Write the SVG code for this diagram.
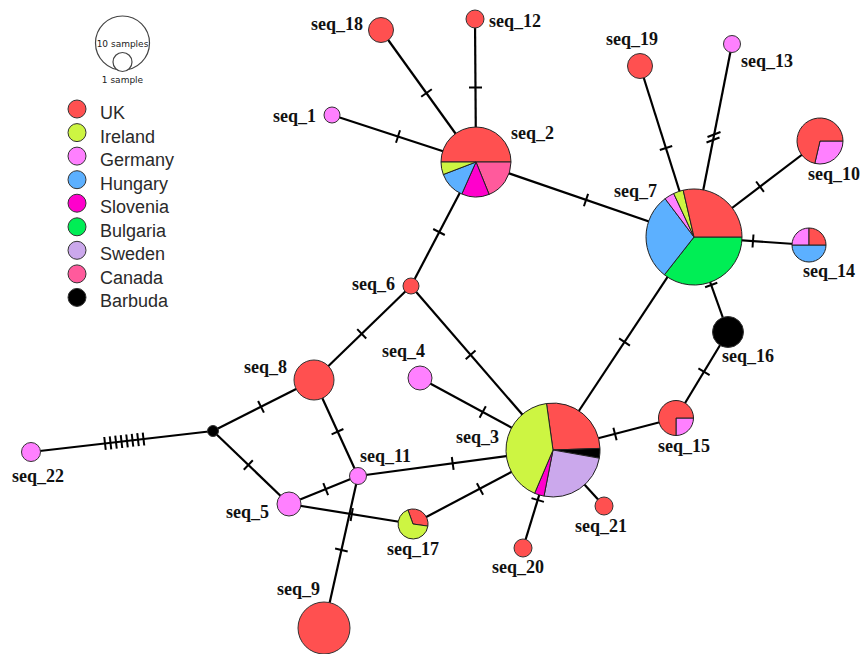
<svg xmlns="http://www.w3.org/2000/svg" width="861" height="654" viewBox="0 0 861 654">
<style>
.bg{fill:#fff}
.e{stroke:#000;stroke-width:2.2;fill:none}
.t{stroke:#000;stroke-width:2;fill:none}
.n{stroke:#333;stroke-width:1}
.s{stroke:#222;stroke-width:1}
.uk{fill:#ff5050}.ie{fill:#cdf542}.de{fill:#ff80ff}.hu{fill:#5cb0ff}.si{fill:#ff00cc}.bg2{fill:#00ee55}.se{fill:#cba8ec}.ca{fill:#ff5a9c}.bb{fill:#000}
.lab{font-family:"Liberation Serif",serif;font-weight:bold;font-size:18px;fill:#111}
.leg{font-family:"Liberation Sans",Arial,sans-serif;font-size:18px;fill:#2a2a2a}
.sm{font-family:"DejaVu Sans",sans-serif;font-size:9px;fill:#222;text-anchor:middle}
</style>
<rect class="bg" x="0" y="0" width="861" height="654"/>

<g id="legend">
<circle cx="122.5" cy="43" r="27" fill="#fff" stroke="#444" stroke-width="1.2"/>
<circle cx="122.5" cy="62" r="9.5" fill="#fff" stroke="#444" stroke-width="1.2"/>
<text class="sm" x="122.5" y="47">10 samples</text>
<text class="sm" x="122.5" y="83">1 sample</text>
<circle class="n uk" cx="77" cy="109" r="9"/><text class="leg" x="100" y="119">UK</text>
<circle class="n ie" cx="77" cy="132.6" r="9"/><text class="leg" x="100" y="142.6">Ireland</text>
<circle class="n de" cx="77" cy="156.1" r="9"/><text class="leg" x="100" y="166.1">Germany</text>
<circle class="n hu" cx="77" cy="179.7" r="9"/><text class="leg" x="100" y="189.7">Hungary</text>
<circle class="n si" cx="77" cy="203.2" r="9"/><text class="leg" x="100" y="213.2">Slovenia</text>
<circle class="n bg2" cx="77" cy="226.8" r="9"/><text class="leg" x="100" y="236.8">Bulgaria</text>
<circle class="n se" cx="77" cy="250.3" r="9"/><text class="leg" x="100" y="260.3">Sweden</text>
<circle class="n ca" cx="77" cy="273.9" r="9"/><text class="leg" x="100" y="283.9">Canada</text>
<circle class="n bb" cx="77" cy="297.4" r="9"/><text class="leg" x="100" y="307.4">Barbuda</text>
</g>

<g id="connectors">
<line class="e" x1="381" y1="30" x2="476" y2="162"/>
<line class="e" x1="475" y1="19" x2="476" y2="162"/>
<line class="e" x1="332" y1="115" x2="476" y2="162"/>
<line class="e" x1="476" y1="162" x2="694" y2="237"/>
<line class="e" x1="476" y1="162" x2="411" y2="286"/>
<line class="e" x1="640" y1="66" x2="694" y2="237"/>
<line class="e" x1="732" y1="44" x2="694" y2="237"/>
<line class="e" x1="820" y1="141" x2="694" y2="237"/>
<line class="e" x1="809" y1="245" x2="694" y2="237"/>
<line class="e" x1="694" y1="237" x2="728" y2="332"/>
<line class="e" x1="728" y1="332" x2="676" y2="418"/>
<line class="e" x1="694" y1="237" x2="553" y2="450"/>
<line class="e" x1="676" y1="418" x2="553" y2="450"/>
<line class="e" x1="411" y1="286" x2="553" y2="450"/>
<line class="e" x1="411" y1="286" x2="314" y2="380"/>
<line class="e" x1="420" y1="378" x2="553" y2="450"/>
<line class="e" x1="358" y1="476" x2="553" y2="450"/>
<line class="e" x1="413" y1="524" x2="553" y2="450"/>
<line class="e" x1="553" y1="450" x2="523" y2="548"/>
<line class="e" x1="553" y1="450" x2="604" y2="506"/>
<line class="e" x1="213" y1="431" x2="314" y2="380"/>
<line class="e" x1="213" y1="431" x2="289" y2="504"/>
<line class="e" x1="213" y1="431" x2="31" y2="452"/>
<line class="e" x1="314" y1="380" x2="358" y2="476"/>
<line class="e" x1="289" y1="504" x2="358" y2="476"/>
<line class="e" x1="289" y1="504" x2="413" y2="524"/>
<line class="e" x1="358" y1="476" x2="324" y2="628"/>
<!-- ticks -->
<line class="t" x1="421.2" y1="96.8" x2="431.8" y2="89.2"/>
<line class="t" x1="469" y1="87.5" x2="482" y2="87.5"/>
<line class="t" x1="396" y1="142.7" x2="400" y2="130.3"/>
<line class="t" x1="583.9" y1="206.2" x2="588.1" y2="193.9"/>
<line class="t" x1="433.2" y1="229" x2="444.8" y2="235"/>
<line class="t" x1="659.8" y1="150" x2="672.2" y2="146"/>
<line class="t" x1="707.5" y1="137" x2="720.5" y2="132"/>
<line class="t" x1="706.5" y1="142.5" x2="719.5" y2="137.5"/>
<line class="t" x1="756.1" y1="181.5" x2="763.9" y2="191.9"/>
<line class="t" x1="753.5" y1="234.5" x2="752.5" y2="247.5"/>
<line class="t" x1="705.1" y1="287.2" x2="717.3" y2="282.8"/>
<line class="t" x1="698.4" y1="368.3" x2="709.6" y2="375.1"/>
<line class="t" x1="619.1" y1="338.4" x2="629.9" y2="345.6"/>
<line class="t" x1="613.4" y1="427.7" x2="616.6" y2="440.3"/>
<line class="t" x1="465.7" y1="359.2" x2="475.5" y2="350.6"/>
<line class="t" x1="357.2" y1="329.1" x2="366.2" y2="338.5"/>
<line class="t" x1="479.6" y1="417.7" x2="485.8" y2="406.3"/>
<line class="t" x1="453.6" y1="469.8" x2="451.8" y2="457"/>
<line class="t" x1="483.1" y1="494.7" x2="476.9" y2="483.3"/>
<line class="t" x1="531.5" y1="498.1" x2="543.9" y2="501.9"/>
<line class="t" x1="263.9" y1="412.6" x2="258.1" y2="401"/>
<line class="t" x1="243.8" y1="469.7" x2="252.8" y2="460.3"/>
<line class="t" x1="104.25" y1="437" x2="105.75" y2="449.9"/>
<line class="t" x1="109.75" y1="436.4" x2="111.25" y2="449.3"/>
<line class="t" x1="115.25" y1="435.7" x2="116.75" y2="448.6"/>
<line class="t" x1="120.75" y1="435.1" x2="122.25" y2="448"/>
<line class="t" x1="126.25" y1="434.5" x2="127.75" y2="447.4"/>
<line class="t" x1="131.75" y1="433.8" x2="133.25" y2="446.7"/>
<line class="t" x1="137.25" y1="433.2" x2="138.75" y2="446.1"/>
<line class="t" x1="142.75" y1="432.6" x2="144.25" y2="445.5"/>
<line class="t" x1="331.6" y1="434.4" x2="343.4" y2="429"/>
<line class="t" x1="328.1" y1="495.1" x2="323.3" y2="483.1"/>
<line class="t" x1="350.6" y1="521" x2="352.8" y2="508.2"/>
<line class="t" x1="335.1" y1="548.6" x2="347.7" y2="551.4"/>
</g>

<g id="seq_2">
<path class="s uk" d="M476,162 L441,162 A35,35 0 0,1 511,162 Z"/>
<path class="s ca" d="M476,162 L511,162 A35,35 0 0,1 489.1,194.4 Z"/>
<path class="s si" d="M476,162 L489.1,194.4 A35,35 0 0,1 461.8,194 Z"/>
<path class="s hu" d="M476,162 L461.8,194 A35,35 0 0,1 443.3,174.5 Z"/>
<path class="s ie" d="M476,162 L443.3,174.5 A35,35 0 0,1 441,162 Z"/>
<text class="lab" x="511" y="139">seq_2</text>
</g>
<g id="seq_7">
<path class="s bg2" d="M694,237 L742,237 A48,48 0 0,1 664.4,274.8 Z"/>
<path class="s hu" d="M694,237 L664.4,274.8 A48,48 0 0,1 665.1,198.7 Z"/>
<path class="s de" d="M694,237 L665.1,198.7 A48,48 0 0,1 673.7,193.5 Z"/>
<path class="s ie" d="M694,237 L673.7,193.5 A48,48 0 0,1 683.2,190.2 Z"/>
<path class="s uk" d="M694,237 L683.2,190.2 A48,48 0 0,1 742,237 Z"/>
<text class="lab" x="614" y="197">seq_7</text>
</g>
<g id="seq_3">
<path class="s uk" d="M553,450 L546.5,403.5 A47,47 0 0,1 600,448.4 Z"/>
<path class="s bb" d="M553,450 L600,448.4 A47,47 0 0,1 599.3,458.2 Z"/>
<path class="s se" d="M553,450 L599.3,458.2 A47,47 0 0,1 544,496.1 Z"/>
<path class="s si" d="M553,450 L544,496.1 A47,47 0 0,1 534.6,493.3 Z"/>
<path class="s ie" d="M553,450 L534.6,493.3 A47,47 0 0,1 546.5,403.5 Z"/>
<text class="lab" x="456" y="443">seq_3</text>
</g>
<g id="seq_10">
<path class="s de" d="M820,141 L843,141 A23,23 0 0,1 814.8,163.4 Z"/>
<path class="s uk" d="M820,141 L814.8,163.4 A23,23 0 1,1 843,141 Z"/>
<text class="lab" x="808" y="180">seq_10</text>
</g>
<g id="seq_14">
<path class="s hu" d="M809,245 L826,245 A17,17 0 0,1 792,245 Z"/>
<path class="s de" d="M809,245 L792,245 A17,17 0 0,1 809,228 Z"/>
<path class="s uk" d="M809,245 L809,228 A17,17 0 0,1 826,245 Z"/>
<text class="lab" x="803" y="277">seq_14</text>
</g>
<g id="seq_15">
<path class="s de" d="M676,418 L693.5,418 A17.5,17.5 0 0,1 676,435.5 Z"/>
<path class="s uk" d="M676,418 L676,435.5 A17.5,17.5 0 1,1 693.5,418 Z"/>
<text class="lab" x="658" y="452">seq_15</text>
</g>
<g id="seq_17">
<path class="s uk" d="M413,524 L407.9,509.9 A15,15 0 0,1 427.9,526.1 Z"/>
<path class="s ie" d="M413,524 L427.9,526.1 A15,15 0 1,1 407.9,509.9 Z"/>
<text class="lab" x="387" y="555">seq_17</text>
</g>
<g id="seq_16"><circle class="n bb" cx="728" cy="332" r="15.5"/><text class="lab" x="722" y="362">seq_16</text></g>
<g id="junction"><circle class="n bb" cx="213" cy="431" r="5.5"/></g>
<g id="seq_1"><circle class="n de" cx="332" cy="115" r="8"/><text class="lab" x="273" y="122">seq_1</text></g>
<g id="seq_18"><circle class="n uk" cx="381" cy="30" r="12.5"/><text class="lab" x="311" y="30">seq_18</text></g>
<g id="seq_12"><circle class="n uk" cx="475" cy="19" r="9"/><text class="lab" x="489" y="27">seq_12</text></g>
<g id="seq_19"><circle class="n uk" cx="640" cy="66" r="12.5"/><text class="lab" x="606" y="45">seq_19</text></g>
<g id="seq_13"><circle class="n de" cx="732" cy="44" r="8.5"/><text class="lab" x="741" y="67">seq_13</text></g>
<g id="seq_6"><circle class="n uk" cx="411" cy="286" r="8"/><text class="lab" x="352" y="290">seq_6</text></g>
<g id="seq_8"><circle class="n uk" cx="314" cy="380" r="20"/><text class="lab" x="244" y="373">seq_8</text></g>
<g id="seq_4"><circle class="n de" cx="420" cy="378" r="12"/><text class="lab" x="382" y="357">seq_4</text></g>
<g id="seq_11"><circle class="n de" cx="358" cy="476" r="8.5"/><text class="lab" x="360" y="462">seq_11</text></g>
<g id="seq_5"><circle class="n de" cx="289" cy="504" r="12"/><text class="lab" x="226" y="518">seq_5</text></g>
<g id="seq_9"><circle class="n uk" cx="324" cy="628" r="26"/><text class="lab" x="277" y="595">seq_9</text></g>
<g id="seq_20"><circle class="n uk" cx="523" cy="548" r="9"/><text class="lab" x="492" y="573">seq_20</text></g>
<g id="seq_21"><circle class="n uk" cx="604" cy="506" r="9"/><text class="lab" x="575" y="532">seq_21</text></g>
<g id="seq_22"><circle class="n de" cx="31" cy="452" r="9.5"/><text class="lab" x="12" y="482">seq_22</text></g>
</svg>
